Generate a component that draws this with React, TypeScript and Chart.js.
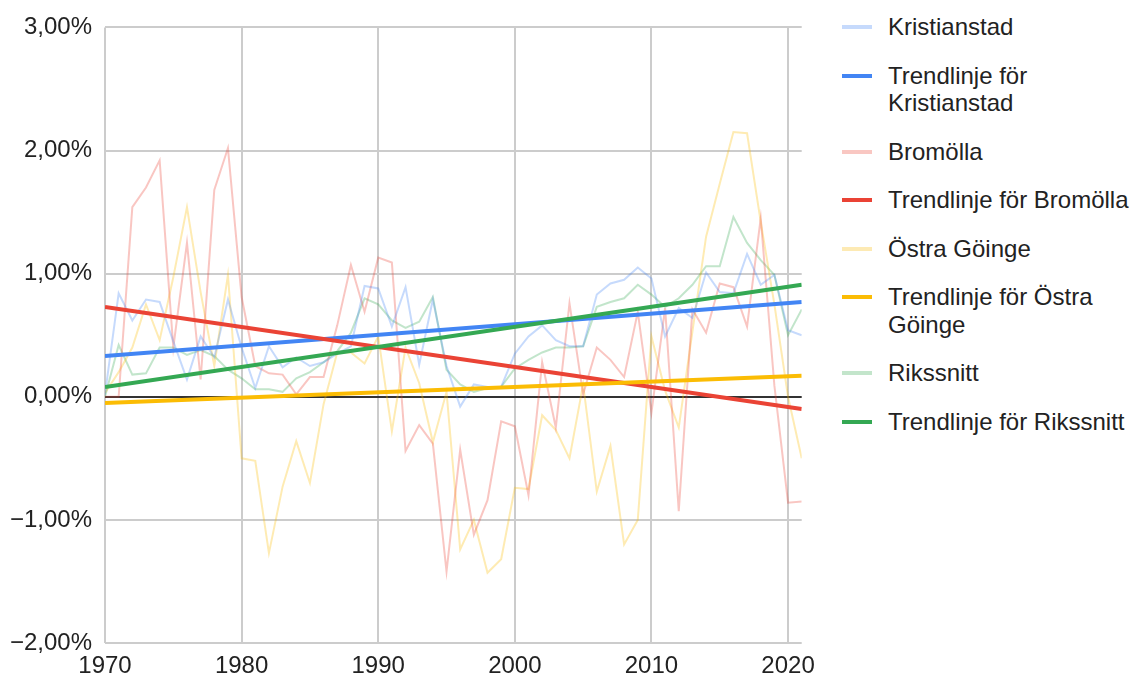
import React, { useEffect, useRef } from "react";
import { Chart, registerables } from "chart.js";

Chart.register(...registerables);

const years = [
  1970, 1971, 1972, 1973, 1974, 1975, 1976, 1977, 1978, 1979,
  1980, 1981, 1982, 1983, 1984, 1985, 1986, 1987, 1988, 1989,
  1990, 1991, 1992, 1993, 1994, 1995, 1996, 1997, 1998, 1999,
  2000, 2001, 2002, 2003, 2004, 2005, 2006, 2007, 2008, 2009,
  2010, 2011, 2012, 2013, 2014, 2015, 2016, 2017, 2018, 2019,
  2020, 2021,
];

const kristianstad = [
  0.02, 0.84, 0.62, 0.79, 0.77, 0.45, 0.14, 0.49, 0.32, 0.79,
  0.40, 0.07, 0.41, 0.24, 0.32, 0.25, 0.28, 0.35, 0.41, 0.90,
  0.88, 0.57, 0.89, 0.26, 0.79, 0.25, -0.08, 0.10, 0.08, 0.08,
  0.35, 0.49, 0.58, 0.46, 0.41, 0.41, 0.83, 0.92, 0.95, 1.05,
  0.96, 0.49, 0.72, 0.64, 1.01, 0.85, 0.84, 1.16, 0.91, 0.99,
  0.54, 0.50,
];

const bromolla = [
  0.0, 0.0, 1.54, 1.70, 1.92, 0.40, 1.25, 0.14, 1.68, 2.02,
  0.81, 0.25, 0.19, 0.18, 0.02, 0.16, 0.16, 0.58, 1.07, 0.69,
  1.13, 1.09, -0.44, -0.23, -0.38, -1.42, -0.43, -1.12, -0.84, -0.20,
  -0.24, -0.80, 0.28, -0.25, 0.76, 0.02, 0.40, 0.30, 0.16, 0.69,
  -0.13, 0.72, -0.93, 0.71, 0.52, 0.92, 0.89, 0.57, 1.45, 0.09,
  -0.86, -0.85,
];

const ostraGoinge = [
  0.03, 0.20, 0.40, 0.75, 0.46, 0.97, 1.54, 0.85, 0.25, 0.99,
  -0.50, -0.52, -1.27, -0.73, -0.36, -0.70, -0.06, 0.36, 0.36, 0.27,
  0.49, -0.28, 0.40, 0.11, -0.37, 0.04, -1.24, -1.00, -1.43, -1.32,
  -0.74, -0.75, -0.15, -0.27, -0.50, 0.10, -0.77, -0.40, -1.20, -1.00,
  0.49, 0.05, -0.25, 0.53, 1.30, 1.73, 2.15, 2.14, 1.42, 0.75,
  0.00, -0.50,
];

const rikssnitt = [
  0.0, 0.42, 0.18, 0.19, 0.40, 0.40, 0.34, 0.38, 0.33, 0.22,
  0.15, 0.06, 0.06, 0.04, 0.15, 0.20, 0.28, 0.37, 0.52, 0.80,
  0.75, 0.62, 0.56, 0.61, 0.81, 0.22, 0.10, 0.04, 0.07, 0.08,
  0.23, 0.30, 0.36, 0.40, 0.40, 0.41, 0.73, 0.77, 0.80, 0.91,
  0.83, 0.73, 0.80, 0.91, 1.06, 1.06, 1.46, 1.25, 1.11, 0.99,
  0.50, 0.71,
];

const trendYears = [1970, 2021];
const trendKristianstad = [0.33, 0.77];
const trendBromolla = [0.73, -0.1];
const trendOstraGoinge = [-0.05, 0.17];
const trendRikssnitt = [0.08, 0.91];

const xTicks = [1970, 1980, 1990, 2000, 2010, 2020];
const yTicks = [-2, -1, 0, 1, 2, 3];

const legendLabels = [
  ["Kristianstad"],
  ["Trendlinje för", "Kristianstad"],
  ["Bromölla"],
  ["Trendlinje för Bromölla"],
  ["Östra Göinge"],
  ["Trendlinje för Östra", "Göinge"],
  ["Rikssnitt"],
  ["Trendlinje för Rikssnitt"],
];
const legendColors = [
  "#c6dafc", "#4285f4",
  "#f9c7c2", "#ea4335",
  "#fdeab4", "#fbbc04",
  "#c3e5cb", "#34a853",
];

const FONT = "'Liberation Sans', Arial, sans-serif";

const pts = (xs: number[], ys: number[]) => xs.map((x, i) => ({ x, y: ys[i] }));

const fmtPct = (v: number) =>
  (v < 0 ? "\u2212" : "") + Math.abs(v).toFixed(2).replace(".", ",") + "%";

export default function App() {
  const ref = useRef<HTMLCanvasElement | null>(null);

  useEffect(() => {
    if (!ref.current) return;
    const chart = new Chart(ref.current, {
      type: "line",
      data: {
        datasets: [
          { label: "Trendlinje för Rikssnitt", data: pts(trendYears, trendRikssnitt), borderColor: "#34a853", borderWidth: 4, order: 0 },
          { label: "Trendlinje för Östra Göinge", data: pts(trendYears, trendOstraGoinge), borderColor: "#fbbc04", borderWidth: 4, order: 0 },
          { label: "Trendlinje för Bromölla", data: pts(trendYears, trendBromolla), borderColor: "#ea4335", borderWidth: 4, order: 0 },
          { label: "Trendlinje för Kristianstad", data: pts(trendYears, trendKristianstad), borderColor: "#4285f4", borderWidth: 4, order: 0 },
          { label: "Kristianstad", data: pts(years, kristianstad), borderColor: "rgba(66,133,244,0.3)", borderWidth: 2, order: 1 },
          { label: "Bromölla", data: pts(years, bromolla), borderColor: "rgba(234,67,53,0.3)", borderWidth: 2, order: 1 },
          { label: "Östra Göinge", data: pts(years, ostraGoinge), borderColor: "rgba(251,188,4,0.3)", borderWidth: 2, order: 1 },
          { label: "Rikssnitt", data: pts(years, rikssnitt), borderColor: "rgba(52,168,83,0.3)", borderWidth: 2, order: 1 },
        ] as any,
      },
      options: {
        animation: false,
        responsive: false,
        maintainAspectRatio: false,
        elements: { point: { radius: 0, hoverRadius: 0 }, line: { tension: 0 } },
        layout: { padding: { top: 27, right: 13, left: 0, bottom: 0 } },
        plugins: { legend: { display: false }, tooltip: { enabled: false } },
        scales: {
          x: {
            type: "linear",
            min: 1970,
            max: 2021,
            afterBuildTicks: (s: any) => { s.ticks = xTicks.map((v) => ({ value: v })); },
            afterFit: (s: any) => { s.height = 37; },
            grid: { color: "#cccccc", lineWidth: 2, drawTicks: false },
            border: { display: false },
            ticks: {
              padding: 9,
              color: "#222222",
              font: { family: FONT, size: 24 },
              callback: (v: any) => String(v),
              maxRotation: 0,
            },
          },
          y: {
            type: "linear",
            min: -2,
            max: 3,
            afterBuildTicks: (s: any) => { s.ticks = yTicks.map((v) => ({ value: v })); },
            afterFit: (s: any) => { s.width = 105; },
            grid: {
              color: (ctx: any) => (ctx.tick && ctx.tick.value === 0 ? "#333333" : "#cccccc"),
              lineWidth: 2,
              drawTicks: false,
            },
            border: { display: false },
            ticks: {
              padding: 13,
              color: "#222222",
              font: { family: FONT, size: 24 },
              callback: (v: any) => fmtPct(Number(v)),
            },
          },
        },
      } as any,
    });
    return () => chart.destroy();
  }, []);

  return (
    <div style={{ position: "absolute", left: 0, top: 0, width: 1134, height: 680, background: "#ffffff" }}>
      <canvas ref={ref} width={824} height={680} style={{ position: "absolute", left: 0, top: 0 }} />
      <div
        style={{
          position: "absolute",
          left: 842,
          top: 13,
          display: "flex",
          flexDirection: "column",
          gap: 21,
          fontFamily: FONT,
          fontSize: 24,
          lineHeight: "27.5px",
          color: "#222222",
        }}
      >
        {legendLabels.map((lines, i) => (
          <div key={i} style={{ display: "flex", alignItems: "flex-start" }}>
            <div style={{ width: 30, height: 4, marginTop: 12, marginRight: 16, background: legendColors[i], flex: "none" }} />
            <div style={{ whiteSpace: "nowrap" }}>
              {lines.map((t, j) => (
                <div key={j}>{t}</div>
              ))}
            </div>
          </div>
        ))}
      </div>
    </div>
  );
}
